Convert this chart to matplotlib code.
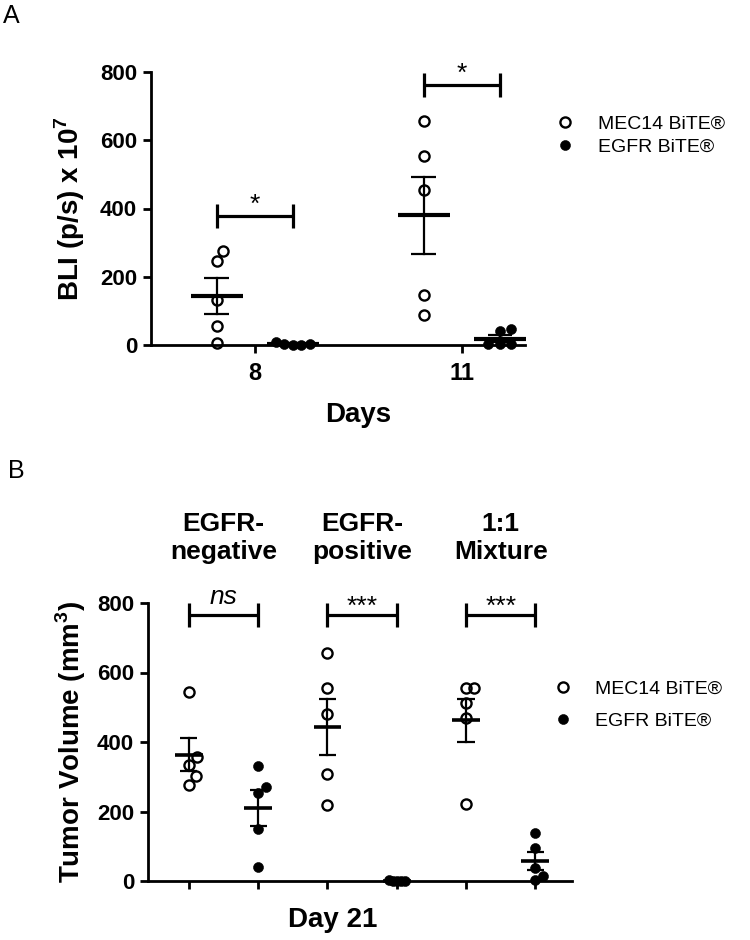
import numpy as np
import matplotlib
matplotlib.use('Agg')
import matplotlib.pyplot as plt
import matplotlib.transforms as mtransforms
from matplotlib.lines import Line2D

plt.rcParams['font.family'] = ['Liberation Sans', 'DejaVu Sans']
plt.rcParams['mathtext.fontset'] = 'custom'
plt.rcParams['mathtext.rm'] = 'Liberation Sans'
plt.rcParams['mathtext.bf'] = 'Liberation Sans:bold'

# Panel A: BLI at day 8 and 11
days = ['8', '11']
bli_mec14 = [[276, 247, 132, 56, 5], [656, 554, 454, 146, 88]]
bli_egfr = [[10, 2, 1, 1, 2], [3, 2, 4, 46, 40]]
bli_sig = ['*', '*']

# Panel B: tumor volume at day 21
groups = ['EGFR-\nnegative', 'EGFR-\npositive', '1:1\nMixture']
vol_mec14 = [[545, 358, 334, 302, 276], [656, 555, 481, 307, 220], [555, 555, 511, 468, 223]]
vol_egfr = [[332, 254, 271, 151, 40], [1, 0, 2, 0, 1], [139, 94, 37, 15, 3]]
vol_sig = ['ns', '***', '***']

series = ['MEC14 BiTE®', 'EGFR BiTE®']

W, H = 750, 940
fig = plt.figure(figsize=(W / 100, H / 100), dpi=100)

# axes boxes in pixels (left, top, right, bottom)
axA = fig.add_axes([151 / W, 1 - 345 / H, (525 - 151) / W, (345 - 72) / H])
axB = fig.add_axes([148 / W, 1 - 881 / H, (572 - 148) / W, (881 - 603) / H])
axA.set_xlim(-0.502, 1.305)
axB.set_xlim(-0.59, 5.53)


def swarm(vals, ppu, mind=11.5, cap=None):
    # greedy beeswarm, offsets in pixels
    order = np.argsort(vals)
    cands = [0.0]
    for k in range(1, 120):
        cands += [k * 0.5, -k * 0.5]
    placed = []
    offs = np.zeros(len(vals))
    for i in order:
        y = vals[i] * ppu
        for c in cands:
            if all((c - px) ** 2 + (y - py) ** 2 >= mind ** 2 for px, py in placed):
                break
        offs[i] = c
        placed.append((c, y))
    if cap is not None and np.abs(offs).max() > cap:
        offs = offs * cap / np.abs(offs).max()
    return offs


def draw_group(ax, x, vals, filled, half_mean, half_cap, mean_lw, cap=None):
    vals = np.array(vals, float)
    bb = ax.get_position()
    ppu_y = bb.height * H / 800
    ppu_x = bb.width * W / (ax.get_xlim()[1] - ax.get_xlim()[0])
    xs = x + swarm(vals, ppu_y, cap=cap) / ppu_x
    if filled:
        ax.plot(xs, vals, 'o', ms=7.2, mfc='black', mec='black', mew=0.4,
                clip_on=False, zorder=3)
    else:
        ax.plot(xs, vals, 'o', ms=7.3, mfc='none', mec='black', mew=1.7,
                clip_on=False, zorder=3)
    m = vals.mean()
    se = vals.std(ddof=1) / np.sqrt(len(vals))
    ax.plot([x - half_mean, x + half_mean], [m, m], color='black', lw=mean_lw,
            solid_capstyle='butt', zorder=4, clip_on=False)
    ax.plot([x, x], [m - se, m + se], color='black', lw=1.6, zorder=4, clip_on=False)
    for yy in (m - se, m + se):
        ax.plot([x - half_cap, x + half_cap], [yy, yy], color='black', lw=1.6,
                solid_capstyle='butt', zorder=4, clip_on=False)


def bracket(ax, x0, x1, y, label, style='normal', text_y=None):
    ax.plot([x0, x0, np.nan, x0, x1, np.nan, x1, x1],
            [y - 35, y + 35, np.nan, y, y, np.nan, y - 35, y + 35],
            color='black', lw=2.3, solid_capstyle='butt', clip_on=False)
    ax.text((x0 + x1) / 2, text_y, label, ha='center', va='baseline',
            fontsize=19, style=style)


def style_axes(ax):
    for s in ['top', 'right']:
        ax.spines[s].set_visible(False)
    for s in ['left', 'bottom']:
        ax.spines[s].set_linewidth(2.0)
    ax.set_ylim(0, 800)
    ax.set_yticks([0, 200, 400, 600, 800])
    ax.tick_params(width=2.0, length=6, labelsize=16, pad=4)
    for lab in ax.get_yticklabels() + ax.get_xticklabels():
        lab.set_fontweight('bold')


# ---- Panel A ----
offA = 0.184
bracket_yA = [378, 763]
star_yA = [391, 773]
for i in range(len(days)):
    draw_group(axA, i - offA, bli_mec14[i], False, 0.126, 0.06, 3.0, cap=17)
    draw_group(axA, i + offA, bli_egfr[i], True, 0.126, 0.06, 3.0, cap=17)
    bracket(axA, i - offA, i + offA, bracket_yA[i], bli_sig[i], text_y=star_yA[i])
axA.set_xticks(range(len(days)))
axA.set_xticklabels(days)
style_axes(axA)
axA.tick_params(axis='x', labelsize=17, pad=6)
for lab in axA.get_xticklabels():
    lab.set_fontweight('bold')
axA.set_ylabel(r'BLI (p/s) x 10$^{\mathbf{7}}$', fontsize=20, fontweight='bold')
axA.yaxis.set_label_coords(-0.171, 0.5)
axA.text(0.5, -0.256, 'Days', transform=mtransforms.blended_transform_factory(axA.transData, axA.transAxes),
         ha='center', va='center', fontsize=20, fontweight='bold')

# ---- Panel B ----
bracket_yB = [766, 766, 766]
sig_yB = [797, 770, 770]
for i in range(len(groups)):
    xm, xe = 2 * i, 2 * i + 1
    draw_group(axB, xm, vol_mec14[i], False, 0.2, 0.123, 2.6, cap=8)
    draw_group(axB, xe, vol_egfr[i], True, 0.2, 0.123, 2.6, cap=8)
    if vol_sig[i] == 'ns':
        bracket(axB, xm, xe, bracket_yB[i], vol_sig[i], style='italic', text_y=sig_yB[i])
    else:
        bracket(axB, xm, xe, bracket_yB[i], vol_sig[i], text_y=sig_yB[i])
    axB.text(xm + 0.5, 1.233, groups[i], transform=mtransforms.blended_transform_factory(axB.transData, axB.transAxes),
             ha='center', va='center', fontsize=19, fontweight='bold', linespacing=1.2)
axB.set_xticks(range(2 * len(groups)))
axB.set_xticklabels([])
style_axes(axB)
axB.set_ylabel(r'Tumor Volume (mm$^{\mathbf{3}}$)', fontsize=20, fontweight='bold')
axB.yaxis.set_label_coords(-0.142, 0.5)
axB.text(2.08, -0.14, 'Day 21', transform=mtransforms.blended_transform_factory(axB.transData, axB.transAxes),
         ha='center', va='center', fontsize=20, fontweight='bold')

# legends
handles = [Line2D([], [], ls='none', marker='o', ms=7.3, mfc='none', mec='black', mew=1.7),
           Line2D([], [], ls='none', marker='o', ms=7.2, mfc='black', mec='black', mew=0.4)]
fig.legend(handles, series, loc='center left', bbox_to_anchor=(555 / W, 1 - 135.5 / H),
           frameon=False, fontsize=14, handlelength=1.0, handletextpad=1.2,
           labelspacing=0.25, borderpad=0, borderaxespad=0)
fig.legend(handles, series, loc='center left', bbox_to_anchor=(553 / W, 1 - 705 / H),
           frameon=False, fontsize=14, handlelength=1.0, handletextpad=1.15,
           labelspacing=0.7, borderpad=0, borderaxespad=0)

fig.text(3 / W, 1 - 4 / H, 'A', fontsize=18, va='top', ha='left')
fig.text(8 / W, 1 - 459 / H, 'B', fontsize=18, va='top', ha='left')

fig.savefig('out.png', dpi=100)
